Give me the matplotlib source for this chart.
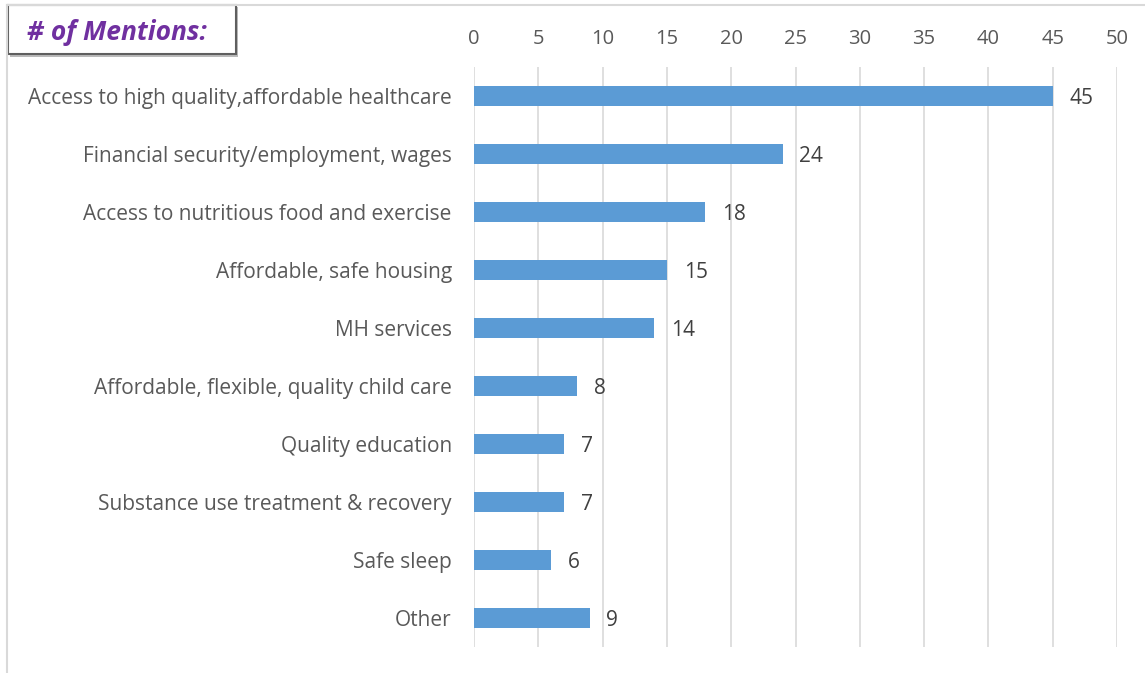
import matplotlib.pyplot as plt
from matplotlib.patches import Rectangle
from matplotlib.lines import Line2D

categories = [
    "Access to high quality,affordable healthcare",
    "Financial security/employment, wages",
    "Access to nutritious food and exercise",
    "Affordable, safe housing",
    "MH services",
    "Affordable, flexible, quality child care",
    "Quality education",
    "Substance use treatment & recovery",
    "Safe sleep",
    "Other",
]
mentions = [45, 24, 18, 15, 14, 8, 7, 7, 6, 9]
x_ticks = list(range(0, 55, 5))

BAR = "#5B9BD5"
GRID = "#D9D9D9"
TEXT = "#595959"

plt.rcParams['font.family'] = ['Open Sans', 'DejaVu Sans']

fig = plt.figure(figsize=(11.45, 6.73), dpi=100)
ax = fig.add_axes([474 / 1145, 1 - 647 / 673, (1117 - 474) / 1145, 580 / 673])

ypos = list(range(len(categories)))
ax.barh(ypos, mentions, height=0.35, color=BAR, zorder=3)
for y, v in zip(ypos, mentions):
    ax.text(v + 1.3, y + 0.04, str(v), va='center', ha='left', fontsize=15, color="#404040")

ax.set_xlim(0, 50)
ax.set_ylim(len(categories) - 0.5, -0.5)
ax.set_xticks(x_ticks)
ax.set_yticks(ypos)
ax.set_yticklabels(categories)
ax.xaxis.tick_top()
ax.tick_params(axis='x', length=0, pad=13, labelsize=14.5, labelcolor=TEXT)
ax.tick_params(axis='y', length=0, pad=16, labelsize=15, labelcolor=TEXT)
ax.grid(axis='x', color=GRID, linewidth=1.2, zorder=0)
for s in ax.spines.values():
    s.set_visible(False)

# chart area border (top and left edges)
fig.add_artist(Line2D([7 / 1145, 1.0], [1 - 5 / 673, 1 - 5 / 673], color=GRID, linewidth=1.5))
fig.add_artist(Line2D([7 / 1145, 7 / 1145], [0, 1 - 5 / 673], color=GRID, linewidth=1.5))

# header box with drop shadow
fig.add_artist(Rectangle((10 / 1145, 1 - 57 / 673), 228 / 1145, 50 / 673,
                         facecolor="#8c8c8c", edgecolor='none', alpha=0.6))
fig.add_artist(Rectangle((8 / 1145, 1 - 54 / 673), 228 / 1145, 49 / 673,
                         facecolor='white', edgecolor="#5f5f5f", linewidth=1.5))
fig.text(27 / 1145, 1 - 33 / 673, "# of Mentions:", fontsize=19, fontstyle='italic',
         fontweight='bold', color="#7030A0", va='center', ha='left')

fig.savefig("out.png", dpi=100)
